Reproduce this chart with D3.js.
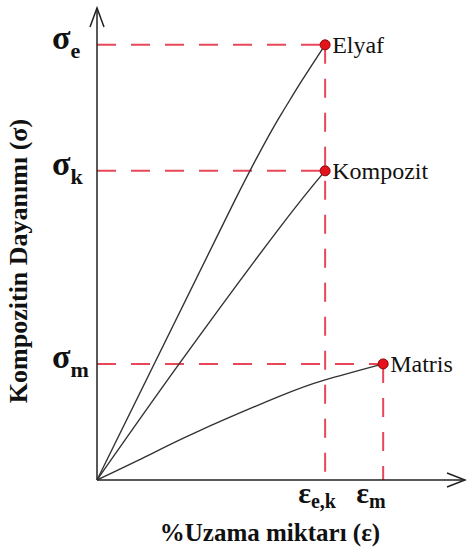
<!DOCTYPE html>
<meta charset="utf-8">
<style>
body { margin: 0; background: #fff; }
</style>
<svg width="467" height="554"></svg>
<script src="https://cdn.jsdelivr.net/npm/d3@7"></script>
<script>

// curves (strain, stress) in arbitrary units
var seriesNames = ["Elyaf", "Kompozit", "Matris"];
var elyaf    = [[0, 0], [3.78, 5.93], [5.07, 7.78], [5.62, 8.47], [6.25, 9.22]];
var kompozit = [[0, 0], [2.27, 2.48], [4.96, 5.3], [6.25, 6.55]];
var matris   = [[0, 0], [1.32, 0.49], [2.68, 1.0], [4.96, 1.76], [6.25, 2.12], [7.84, 2.46]];
var stressTicks = [{sub: "e", v: 9.22}, {sub: "k", v: 6.55}, {sub: "m", v: 2.46}];
var strainTicks = [{sub: "e,k", v: 6.25}, {sub: "m", v: 7.84}];

var serif = "'Liberation Serif', 'Times New Roman', Times, 'DejaVu Serif', serif";

var svg = d3.select("svg");

var x = d3.scaleLinear().domain([0, 10]).range([97, 462]),
    y = d3.scaleLinear().domain([0, 10]).range([480, 8]);

var series = [elyaf, kompozit, matris];

// dashed guides
var red = "#e8475a";
var guides = svg.append("g")
    .attr("stroke", red)
    .attr("stroke-width", 2)
    .attr("stroke-dasharray", "19,15")
    .attr("fill", "none");

series.forEach(function(s) {
  var last = s[s.length - 1];
  guides.append("line")
      .attr("x1", x(0)).attr("x2", x(last[0]))
      .attr("y1", y(last[1])).attr("y2", y(last[1]));
});
// verticals: from highest point at each strain down to axis
strainTicks.forEach(function(t) {
  var top = d3.max(series, function(s) { var l = s[s.length - 1]; return l[0] === t.v ? l[1] : -1; });
  guides.append("line")
      .attr("x1", x(t.v)).attr("x2", x(t.v))
      .attr("y1", y(top)).attr("y2", y(0));
});

// axes
var axis = svg.append("g").attr("stroke", "#222").attr("stroke-width", 1.5).attr("fill", "none");
axis.append("line").attr("x1", x(0)).attr("y1", y(0)).attr("x2", x(0)).attr("y2", 8);
axis.append("path").attr("d", "M" + (x(0) - 7) + ",27L" + x(0) + ",8L" + (x(0) + 7) + ",27");
axis.append("line").attr("x1", x(0)).attr("y1", y(0)).attr("x2", 465).attr("y2", y(0));
axis.append("path").attr("d", "M447," + (y(0) - 7) + "L465," + y(0) + "L447," + (y(0) + 7));

// curves
var line = d3.line()
    .x(function(d) { return x(d[0]); })
    .y(function(d) { return y(d[1]); })
    .curve(d3.curveNatural);

svg.append("g").selectAll("path")
  .data(series)
  .enter().append("path")
    .attr("d", line)
    .attr("fill", "none")
    .attr("stroke", "#333")
    .attr("stroke-width", 1.4);

var txt = svg.append("g")
    .attr("font-family", serif)
    .attr("fill", "#111");

// end points + names
series.forEach(function(s, i) {
  var last = s[s.length - 1];
  svg.append("circle")
      .attr("cx", x(last[0])).attr("cy", y(last[1])).attr("r", 5)
      .attr("fill", "#e5111b").attr("stroke", "#8a0a0a").attr("stroke-width", 1);
  txt.append("text")
      .attr("font-size", 24)
      .attr("x", x(last[0]) + 7).attr("y", y(last[1]) + 8)
      .text(seriesNames[i]);
});

// stress labels
stressTicks.forEach(function(t) {
  var tx = txt.append("text").attr("font-weight", "bold")
      .attr("x", 52).attr("y", y(t.v) + 4);
  tx.append("tspan").attr("font-size", 34).text("σ");
  tx.append("tspan").attr("font-size", 22).attr("dy", 9).text(t.sub);
});

// strain labels
strainTicks.forEach(function(t) {
  var tx = txt.append("text").attr("font-weight", "bold")
      .attr("x", x(t.v) - 27).attr("y", 503);
  tx.append("tspan").attr("font-size", 30).text("ε");
  tx.append("tspan").attr("font-size", 20).attr("dy", 5).text(t.sub);
});

// axis titles
txt.append("text").attr("font-weight", "bold")
    .attr("x", 270).attr("y", 541)
    .attr("text-anchor", "middle")
    .attr("font-size", 25)
    .text("%Uzama miktarı (ε)");

txt.append("text").attr("font-weight", "bold")
    .attr("transform", "translate(27,261) rotate(-90)")
    .attr("text-anchor", "middle")
    .attr("font-size", 26)
    .text("Kompozitin Dayanımı (σ)");

</script>
